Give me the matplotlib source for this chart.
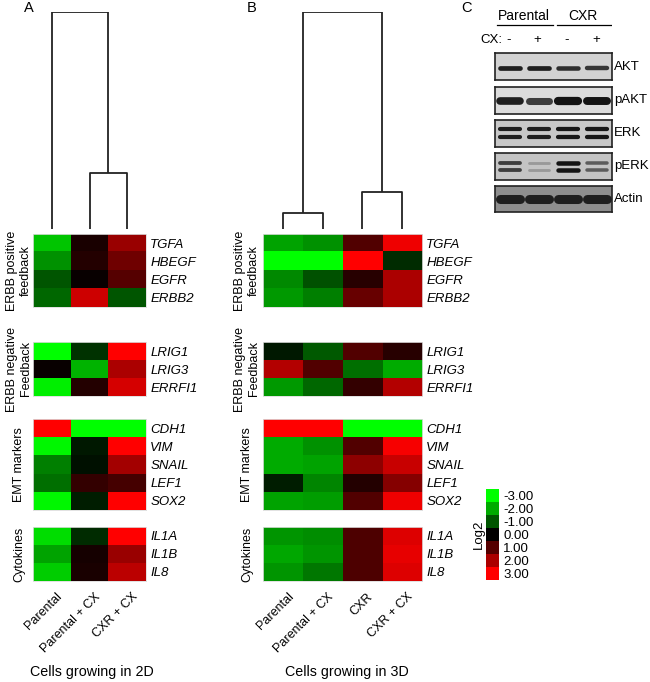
import numpy as np
import matplotlib
matplotlib.use('Agg')
import matplotlib.pyplot as plt
from matplotlib.colors import LinearSegmentedColormap

plt.rcParams['font.family'] = ['Liberation Sans', 'DejaVu Sans']

##################### DATA #####################
groups = ["ERBB positive\nfeedback", "ERBB negative\nFeedback", "EMT markers", "Cytokines"]
genes = [["TGFA", "HBEGF", "EGFR", "ERBB2"],
         ["LRIG1", "LRIG3", "ERRFI1"],
         ["CDH1", "VIM", "SNAIL", "LEF1", "SOX2"],
         ["IL1A", "IL1B", "IL8"]]
samples_2d = ["Parental", "Parental + CX", "CXR + CX"]
samples_3d = ["Parental", "Parental + CX", "CXR", "CXR + CX"]

# log2 values, rows in gene order
log2_2d = [
    [-2.3, 0.3, 1.8],     # TGFA
    [-1.7, 0.4, 1.3],     # HBEGF
    [-1.0, 0.1, 1.0],     # EGFR
    [-1.2, 2.4, -1.0],    # ERBB2
    [-3.0, -0.6, 3.0],    # LRIG1
    [0.1, -2.1, 2.0],     # LRIG3
    [-2.8, 0.4, 2.5],     # ERRFI1
    [3.0, -3.0, -3.0],    # CDH1
    [-2.9, -0.3, 3.0],    # VIM
    [-1.5, -0.2, 1.9],    # SNAIL
    [-1.3, 0.6, 0.8],     # LEF1
    [-2.9, -0.35, 3.0],   # SOX2
    [-2.6, -0.5, 3.0],    # IL1A
    [-1.9, 0.25, 1.8],    # IL1B
    [-2.4, 0.3, 2.2],     # IL8
]
log2_3d = [
    [-1.9, -1.7, 0.95, 2.8],    # TGFA
    [-3.0, -3.0, 3.0, -0.5],    # HBEGF
    [-1.6, -0.95, 0.45, 2.0],   # EGFR
    [-1.8, -1.5, 1.2, 2.0],     # ERBB2
    [-0.3, -1.05, 0.95, 0.45],  # LRIG1
    [2.1, 0.95, -1.3, -2.0],    # LRIG3
    [-1.8, -1.2, 0.6, 2.1],     # ERRFI1
    [3.0, 3.0, -3.0, -3.0],     # CDH1
    [-2.0, -1.7, 0.95, 2.9],    # VIM
    [-2.0, -1.9, 1.65, 2.35],   # SNAIL
    [-0.35, -1.55, 0.4, 1.55],  # LEF1
    [-1.9, -1.85, 0.95, 2.8],   # SOX2
    [-1.75, -1.65, 0.9, 2.6],   # IL1A
    [-1.95, -1.75, 0.9, 2.7],   # IL1B
    [-1.75, -1.4, 0.9, 2.6],    # IL8
]

# dendrogram merges (left node, right node, height), new clusters numbered after leaves
dend_2d = [(1, 2, 0.26), (0, 3, 1.0)]
dend_3d = [(0, 1, 0.073), (2, 3, 0.17), (4, 5, 1.0)]

cbar_levels = [-3, -2, -1, 0, 1, 2, 3]

# western blot band intensities (lanes: Parental -, Parental +, CXR -, CXR +)
blot_rows = ["AKT", "pAKT", "ERK", "pERK", "Actin"]
blot_signs = ["-", "+", "-", "+"]
blot_akt = [1.0, 1.0, 0.9, 0.85]
blot_pakt = [1.0, 0.8, 1.2, 1.1]
blot_erk = [1.0, 1.0, 1.05, 1.05]
blot_perk = [0.8, 0.2, 1.2, 0.6]
blot_actin = [1.0, 1.0, 1.0, 1.0]

##################### PLOT SETTINGS #####################
W, H = 650, 682
fs = 9.5
fs_group = 9
fs_blot = 9.5
cmap = LinearSegmentedColormap.from_list('grn_red', ['#00ff00', '#000000', '#ff0000'])
block_px = [(234, 307), (342, 396), (419, 510), (527, 581)]

fig = plt.figure(figsize=(W / 100, H / 100), dpi=100)


def px_axes(l, t, r, b):
    return fig.add_axes([l / W, 1 - b / H, (r - l) / W, (b - t) / H])


def draw_dendro(ax, merges, n):
    xs = list(range(n))
    hs = [0.0] * n
    for a, b, h in merges:
        ax.plot([xs[a], xs[a], xs[b], xs[b]], [hs[a], h, h, hs[b]],
                color='#222222', lw=1.3, solid_capstyle='butt')
        xs.append((xs[a] + xs[b]) / 2)
        hs.append(h)
    ax.set_xlim(-0.5, n - 0.5)
    ax.set_ylim(0, 1)
    ax.axis('off')


def draw_panel(vals, samples, merges, x0, x1, lab_x):
    vals = np.array(vals)
    n = len(samples)
    ax_d = px_axes(x0, 12, x1, 229)
    draw_dendro(ax_d, merges, n)
    r = 0
    for g, (t, b) in enumerate(block_px):
        k = len(genes[g])
        ax = px_axes(x0, t, x1, b)
        ax.imshow(vals[r:r + k], cmap=cmap, vmin=-3, vmax=3, aspect='auto',
                  interpolation='nearest')
        r += k
        ax.yaxis.tick_right()
        ax.set_yticks(range(k))
        ax.set_yticklabels(genes[g], fontsize=fs, style='italic')
        ax.tick_params(length=0, pad=3)
        ax.set_xticks([])
        for s in ax.spines.values():
            s.set_color('#dddddd')
            s.set_linewidth(0.6)
        fig.text(lab_x / W, 1 - (t + b) / 2 / H, groups[g], rotation=90,
                 ha='center', va='center', fontsize=fs_group, multialignment='center')
        if g == len(block_px) - 1:
            for i, s in enumerate(samples):
                ax.text(i + 0.12, k - 0.5 + 0.55, s, rotation=45, ha='right', va='top',
                        rotation_mode='anchor', fontsize=9, clip_on=False)


draw_panel(log2_2d, samples_2d, dend_2d, 33, 146, 19)
draw_panel(log2_3d, samples_3d, dend_3d, 263, 422, 247)

fig.text(29 / W, 1 - 8 / H, 'A', ha='center', va='center', fontsize=10.5)
fig.text(252 / W, 1 - 8 / H, 'B', ha='center', va='center', fontsize=10.5)
fig.text(466 / W, 1 - 8 / H, 'C', ha='center', va='center', fontsize=10.5)
fig.text(92 / W, 1 - 672 / H, 'Cells growing in 2D', ha='center', va='center', fontsize=10.3)
fig.text(347 / W, 1 - 672 / H, 'Cells growing in 3D', ha='center', va='center', fontsize=10.3)

# colorbar
ax_c = px_axes(486, 489, 499, 580)
ax_c.imshow(np.array(cbar_levels).reshape(-1, 1), cmap=cmap, vmin=-3, vmax=3,
            aspect='auto', interpolation='nearest')
ax_c.yaxis.tick_right()
ax_c.set_yticks(range(len(cbar_levels)))
ax_c.set_yticklabels(['%.2f' % v for v in cbar_levels], fontsize=fs)
ax_c.tick_params(length=0, pad=3)
ax_c.set_xticks([])
for s in ax_c.spines.values():
    s.set_visible(False)
ax_c.set_ylabel('Log2', fontsize=fs, labelpad=1)

# western blot
ax_h = px_axes(495, 5, 612, 50)
ax_h.set_xlim(0, 4)
ax_h.set_ylim(50, 5)
ax_h.axis('off')
ax_h.text(1.0, 16, 'Parental', ha='center', va='center', fontsize=10)
ax_h.text(3.0, 16, 'CXR', ha='center', va='center', fontsize=10)
ax_h.plot([0.07, 1.98], [25, 25], color='k', lw=0.9)
ax_h.plot([2.12, 4.0], [25, 25], color='k', lw=0.9)
ax_h.text(0.25, 40, 'CX:', ha='right', va='center', fontsize=fs_blot, clip_on=False)
for i, s in enumerate(blot_signs):
    ax_h.text(i + 0.45, 40, s, ha='center', va='center', fontsize=fs_blot)

blot_data = [blot_akt, blot_pakt, blot_erk, blot_perk, blot_actin]
blot_px = [(53, 80), (87, 114), (120, 147), (153, 180), (186, 212)]
blot_bg = ['#d2d2d2', '#dcdcdc', '#c8c8c8', '#c4c4c4', '#8e8e8e']
blot_lw = [3.4, 5.5, 3.0, 3.0, 6.5]
blot_ys = [[0.45], [0.48], [0.65, 0.38], [0.63, 0.38], [0.5]]

for name, vals, (t, b), bg, lw, ys in zip(blot_rows, blot_data, blot_px, blot_bg, blot_lw, blot_ys):
    ax = px_axes(495, t, 612, b)
    ax.set_facecolor(bg)
    ax.set_xlim(0, 4)
    ax.set_ylim(0, 1)
    ax.set_xticks([])
    ax.set_yticks([])
    for s in ax.spines.values():
        s.set_linewidth(1.2)
        s.set_color('#222222')
    for i, v in enumerate(vals):
        c = str(max(0.08, 0.72 - 0.6 * v))
        for y in ys:
            ax.plot([i + 0.16, i + 0.84], [y, y], color=c, lw=lw * (0.6 + 0.4 * v),
                    solid_capstyle='round')
    ax.text(1.02, 0.5, name, transform=ax.transAxes, ha='left', va='center', fontsize=fs_blot)

fig.savefig('out.png', dpi=100)
